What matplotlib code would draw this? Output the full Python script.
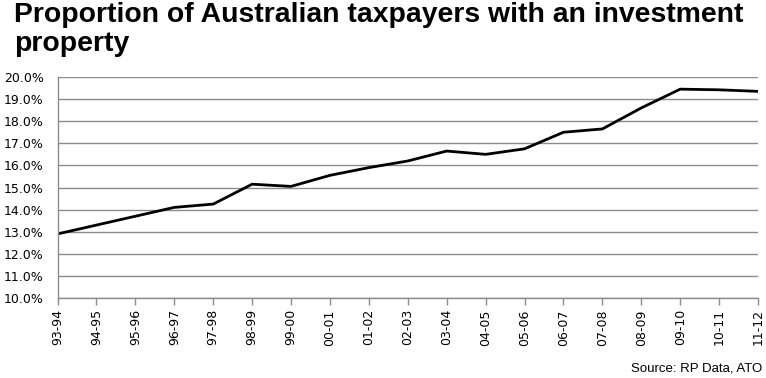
import matplotlib.pyplot as plt
from matplotlib.ticker import FuncFormatter

plt.rcParams["font.family"] = ["DejaVu Sans"]

years = ["93-94", "94-95", "95-96", "96-97", "97-98", "98-99", "99-00",
         "00-01", "01-02", "02-03", "03-04", "04-05", "05-06", "06-07",
         "07-08", "08-09", "09-10", "10-11", "11-12"]
share = [12.9, 13.3, 13.7, 14.1, 14.25, 15.15, 15.05, 15.55, 15.9, 16.2,
         16.65, 16.5, 16.75, 17.5, 17.65, 18.6, 19.45, 19.42, 19.35]

fig = plt.figure(figsize=(7.66, 3.78), dpi=100)
ax = fig.add_axes([0.0751, 0.2116, 0.9145, 0.5847])

x = range(len(years))
ax.plot(x, share, color="black", lw=2.0, solid_joinstyle="miter")

ax.set_xlim(0, len(years) - 1)
ax.set_ylim(10, 20)
ax.set_yticks(range(10, 21))
ax.yaxis.set_major_formatter(FuncFormatter(lambda v, p: f"{v:.1f}%"))
ax.set_xticks(list(x))
ax.set_xticklabels(years, rotation=90)
ax.grid(axis="y", color="#8c8c8c", lw=1.0)
ax.set_axisbelow(True)

for s in ["top", "right"]:
    ax.spines[s].set_visible(False)
for s in ["left", "bottom"]:
    ax.spines[s].set_color("#8c8c8c")
    ax.spines[s].set_linewidth(1.0)
ax.tick_params(axis="y", length=0, pad=10, labelsize=9)
ax.tick_params(axis="x", length=5, width=1, color="#8c8c8c", pad=3, labelsize=9)

title_kw = dict(family="Liberation Sans", weight="bold", fontsize=20.4,
                va="baseline", ha="left")
fig.text(0.018, 1 - 22 / 378, "Proportion of Australian taxpayers with an investment", **title_kw)
fig.text(0.018, 1 - 51 / 378, "property", **title_kw)
fig.text(0.995, 0.01, "Source: RP Data, ATO", family="Liberation Sans",
         fontsize=9.5, ha="right", va="bottom")

fig.savefig("out.png", dpi=100)
